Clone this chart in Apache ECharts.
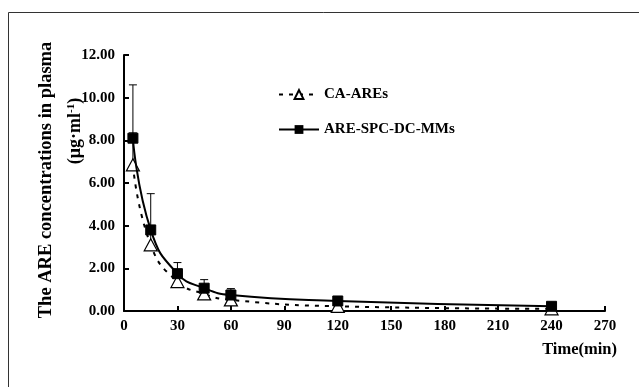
<!DOCTYPE html>
<html>
<head>
<meta charset="utf-8">
<script src="https://cdn.jsdelivr.net/npm/echarts@6/dist/echarts.min.js"></script>
<style>html,body{margin:0;padding:0;background:#fff}#c{width:639px;height:387px}</style>
</head>
<body>
<div id="c"></div>
<script>
var time = [5, 15, 30, 45, 60, 120, 240];
var caAREs = [6.85, 3.1, 1.38, 0.8, 0.52, 0.22, 0.1];
var caErr = [1.5, 0.8, 0.4, 0.35, 0.45, 0.1, 0.05];
var mms = [8.1, 3.8, 1.75, 1.07, 0.75, 0.47, 0.22];
var mmsErr = [2.5, 1.7, 0.52, 0.4, 0.3, 0.1, 0.05];
var xTicks = [0, 30, 60, 90, 120, 150, 180, 210, 240, 270];
var yTicks = [0, 2, 4, 6, 8, 10, 12];

var FONT = "'Times New Roman','Liberation Serif',serif";
var chart = echarts.init(document.getElementById('c'));

function pairs(xs, ys) { return xs.map(function (x, i) { return [x, ys[i]]; }); }
function errData(xs, ys, es) { return xs.map(function (x, i) { return [x, ys[i], ys[i] + es[i]]; }); }
function errRender(params, api) {
  var p0 = api.coord([api.value(0), api.value(1)]);
  var p1 = api.coord([api.value(0), api.value(2)]);
  var hw = 4;
  return {
    type: 'group',
    children: [
      { type: 'line', shape: { x1: p0[0], y1: p0[1], x2: p1[0], y2: p1[1] }, style: { stroke: '#000', lineWidth: 1 } },
      { type: 'line', shape: { x1: p1[0] - hw, y1: p1[1], x2: p1[0] + hw, y2: p1[1] }, style: { stroke: '#000', lineWidth: 1 } }
    ]
  };
}

chart.setOption({
  animation: false,
  backgroundColor: '#fff',
  grid: { left: 124, right: 34, top: 55, bottom: 76 },
  xAxis: {
    type: 'value', min: xTicks[0], max: xTicks[xTicks.length - 1], interval: 30,
    axisLine: { show: true, lineStyle: { color: '#000', width: 2 } },
    axisTick: { show: true, inside: true, length: 5, lineStyle: { color: '#000', width: 2 } },
    axisLabel: { fontFamily: FONT, fontWeight: 'bold', fontSize: 15, color: '#000', margin: 8 },
    splitLine: { show: false }
  },
  yAxis: {
    type: 'value', min: yTicks[0], max: yTicks[yTicks.length - 1], interval: 2,
    axisLine: { show: true, lineStyle: { color: '#000', width: 2 } },
    axisTick: { show: true, inside: true, length: 5, lineStyle: { color: '#000', width: 2 } },
    axisLabel: { fontFamily: FONT, fontWeight: 'bold', fontSize: 15, color: '#000', margin: 9, formatter: function (v) { return v.toFixed(2); } },
    splitLine: { show: false }
  },
  legend: {
    orient: 'vertical', left: 273, top: 82, itemGap: 20, itemWidth: 40, itemHeight: 11,
    textStyle: { fontFamily: FONT, fontWeight: 'bold', fontSize: 15, color: '#000' },
    data: ['CA-AREs', 'ARE-SPC-DC-MMs']
  },
  graphic: [
    { type: 'line', shape: { x1: 8.5, y1: 12.5, x2: 8.5, y2: 387 }, style: { stroke: '#333', lineWidth: 1 } },
    { type: 'line', shape: { x1: 8.5, y1: 12.5, x2: 639, y2: 12.5 }, style: { stroke: '#333', lineWidth: 1 } },
    { type: 'text', x: 46, y: 180, rotation: Math.PI / 2, style: { text: 'The ARE concentrations in plasma', font: 'bold 18.5px ' + FONT, fill: '#000', align: 'center', verticalAlign: 'middle' } },
    { type: 'text', x: 75, y: 131, rotation: Math.PI / 2, style: { text: '(μg·ml{s|-1})', rich: { s: { fontSize: 11, fontWeight: 'bold', fontFamily: FONT, verticalAlign: 'top', padding: [0, 0, 8, 0] } }, font: 'bold 18px ' + FONT, fill: '#000', align: 'center', verticalAlign: 'middle' } },
    { type: 'text', x: 617, y: 350, style: { text: 'Time(min)', font: 'bold 16.5px ' + FONT, fill: '#000', align: 'right', verticalAlign: 'middle' } }
  ],
  series: [
    {
      name: 'CA-AREs', type: 'line', smooth: true, data: pairs(time, caAREs), z: 3,
      symbol: 'triangle', symbolSize: [13, 12], showSymbol: true,
      lineStyle: { color: '#000', width: 2, type: [4, 6] },
      itemStyle: { color: '#fff', borderColor: '#000', borderWidth: 1.2 }
    },
    {
      name: 'ARE-SPC-DC-MMs', type: 'line', smooth: true, data: pairs(time, mms), z: 4,
      symbol: 'rect', symbolSize: 10,
      lineStyle: { color: '#000', width: 2, type: 'solid' },
      itemStyle: { color: '#000', borderColor: '#000' }
    },
    { type: 'custom', renderItem: errRender, data: errData(time, caAREs, caErr), z: 2, silent: true },
    { type: 'custom', renderItem: errRender, data: errData(time, mms, mmsErr), z: 2, silent: true }
  ]
});
</script>
</body>
</html>
